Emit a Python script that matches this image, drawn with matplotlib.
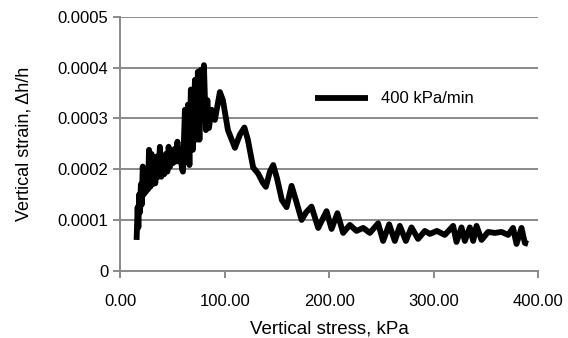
import numpy as np
import matplotlib
matplotlib.use("Agg")
import matplotlib.pyplot as plt

# vertical stress (kPa) and vertical strain
stress = [15.5, 16.5, 17.2, 18.0, 18.8, 19.6, 20.4, 21.4, 22.4, 23.4,
          24.4, 25.4, 26.4, 27.4, 28.6, 29.8, 31.0, 32.2, 33.4, 35.0,
          36.5, 37.8, 39.2, 40.6, 42.0, 43.6, 45.0, 46.2, 47.6, 49.0,
          50.4, 52.0, 53.2, 54.6, 56.0, 57.4, 59.0, 59.9,
          61.8, 63.2, 64.7, 66.1, 67.5, 69.4, 71.4, 72.8,
          74.2, 75.7, 77.1, 78.5, 80.0, 81.9, 83.3, 84.8, 87.4, 90.5,
          95.3, 98.2, 103.0, 109.7, 114.5, 118.8, 122.1, 127.2, 132.0, 136.5,
          139.4, 143.2, 146.4, 149.9, 154.7, 159.2, 164.0, 168.1, 173.6, 178.0,
          183.1, 189.5, 197.5, 202.3, 207.9, 213.4, 219.8, 226.2, 232.6, 239.0,
          246.9, 251.7, 257.5, 262.9, 267.7, 273.5, 278.9, 285.2, 291.7, 296.5,
          303.2, 310.8, 318.8, 322.0, 326.8, 330.0, 334.8, 338.0, 341.2, 346.0,
          352.3, 358.7, 365.1, 371.5, 376.2, 379.5, 384.3, 387.5, 390.6]
strain = [0.0000603, 0.000125, 0.000085, 0.000150, 0.000115, 0.000170, 0.000130, 0.000205, 0.000150, 0.000195,
          0.000155, 0.000200, 0.000160, 0.000238, 0.000165, 0.000230, 0.000170, 0.000205, 0.000172, 0.000225,
          0.000185, 0.000244, 0.000185, 0.000215, 0.000190, 0.000230, 0.000195, 0.000244, 0.000205, 0.000235,
          0.000212, 0.000240, 0.000215, 0.000254, 0.000215, 0.000240, 0.000200, 0.000195,
          0.000317, 0.000218, 0.000327, 0.000208, 0.000357, 0.000238, 0.000376, 0.000258,
          0.000392, 0.000258, 0.000396, 0.000297, 0.000405, 0.000277, 0.000336, 0.000281, 0.000317, 0.000297,
          0.000352, 0.000336, 0.000277, 0.000242, 0.000268, 0.000282, 0.000258, 0.000203, 0.000191, 0.000173,
          0.000165, 0.000195, 0.000208, 0.000183, 0.000139, 0.000125, 0.000167, 0.000139, 0.0000998, 0.000115,
          0.000126, 0.0000840, 0.000117, 0.0000820, 0.000113, 0.0000741, 0.0000899, 0.0000781, 0.0000840, 0.0000741,
          0.0000930, 0.0000583, 0.0000910, 0.0000583, 0.0000880, 0.0000583, 0.0000850, 0.0000623, 0.0000781, 0.0000721,
          0.0000781, 0.0000702, 0.0000880, 0.0000563, 0.0000850, 0.0000583, 0.0000850, 0.0000583, 0.0000880, 0.0000603,
          0.0000761, 0.0000741, 0.0000761, 0.0000702, 0.0000840, 0.0000524, 0.0000840, 0.0000543, 0.0000524]

x_ticks = [0, 100, 200, 300, 400]
x_labels = ["0.00", "100.00", "200.00", "300.00", "400.00"]
y_ticks = [0, 0.0001, 0.0002, 0.0003, 0.0004, 0.0005]
y_labels = ["0", "0.0001", "0.0002", "0.0003", "0.0004", "0.0005"]

plt.rcParams['font.family'] = ['Liberation Sans', 'DejaVu Sans']
grey = "#8a8a8a"

fig = plt.figure(figsize=(5.68, 3.38), dpi=100)
ax = fig.add_axes([0.212, 0.1997, 0.735, 0.75])

ax.plot(stress, strain, color="black", lw=4.2, solid_joinstyle="round",
        solid_capstyle="butt", label="400 kPa/min")

ax.set_xlim(0, 400)
ax.set_ylim(0, 0.0005)
ax.set_xticks(x_ticks)
ax.set_xticklabels(x_labels)
ax.set_yticks(y_ticks)
ax.set_yticklabels(y_labels)
ax.tick_params(axis="both", colors=grey, labelcolor="black", labelsize=12,
               length=5, width=1.4)
ax.tick_params(axis="x", pad=12)

ax.grid(axis="y", color=grey, lw=1.4)
ax.set_axisbelow(True)
for s in ["top", "right"]:
    ax.spines[s].set_visible(False)
for s in ["left", "bottom"]:
    ax.spines[s].set_color(grey)
    ax.spines[s].set_linewidth(1.4)

ax.set_xlabel("Vertical stress, kPa", fontsize=13.5, labelpad=8)
ax.set_ylabel("Vertical strain, \u0394h/h", fontsize=13, labelpad=18)

ax.legend(loc="center left", bbox_to_anchor=(0.465, 0.677), frameon=False,
          fontsize=12, handlelength=3.2, handletextpad=0.8, borderpad=0,
          borderaxespad=0)

fig.savefig("out.png", dpi=100)
